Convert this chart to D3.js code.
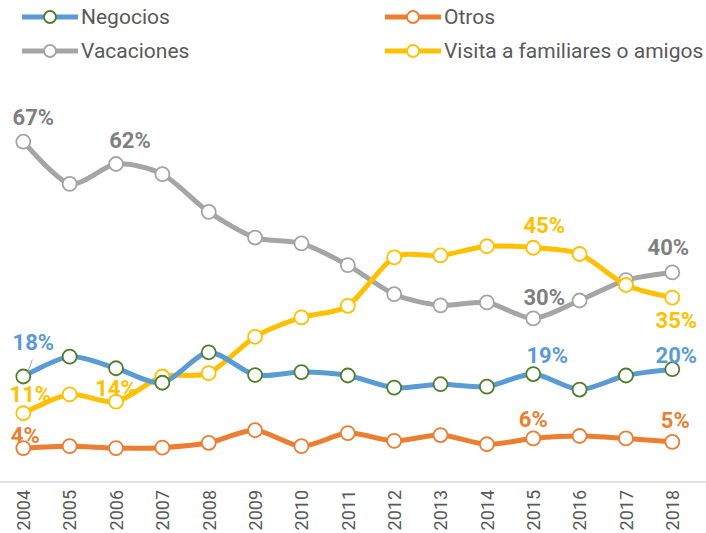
<!DOCTYPE html>
<html>
<head>
<meta charset="utf-8">
<script src="https://cdn.jsdelivr.net/npm/d3@7"></script>
<style>
  body { margin: 0; background: white; }
  text { font-family: Roboto, "Liberation Sans", sans-serif; }
</style>
</head>
<body>
<div id="chart"></div>
<script>
// data (% of trips)
const years = ["2004","2005","2006","2007","2008","2009","2010","2011","2012","2013","2014","2015","2016","2017","2018"];
const negocios = [18.5, 22.6, 20.2, 17.2, 23.5, 18.8, 19.4, 18.7, 16.2, 16.9, 16.4, 19.0, 15.8, 18.7, 20.0];
const otros = [3.7, 4.1, 3.7, 3.8, 4.8, 7.4, 4.1, 6.8, 5.2, 6.4, 4.5, 5.7, 6.2, 5.7, 5.0];
const vacaciones = [67.0, 58.3, 62.4, 60.3, 52.5, 47.2, 46.0, 41.5, 35.5, 33.2, 33.8, 30.5, 34.2, 38.4, 40.0];
const visitas = [10.9, 14.8, 13.3, 18.5, 19.2, 26.7, 30.7, 33.1, 43.1, 43.5, 45.4, 45.1, 43.8, 37.4, 34.8];

const seriesNames = ["Negocios", "Otros", "Vacaciones", "Visita a familiares o amigos"];
const seriesValues = [negocios, otros, vacaciones, visitas];

// which points carry a value label
const labelPoints = [
  { s: 2, i: 0, text: "67%" }, { s: 2, i: 2, text: "62%" },
  { s: 0, i: 0, text: "18%" }, { s: 3, i: 0, text: "11%" },
  { s: 3, i: 2, text: "14%" }, { s: 1, i: 0, text: "4%" },
  { s: 3, i: 11, text: "45%" }, { s: 2, i: 14, text: "40%" },
  { s: 2, i: 11, text: "30%" }, { s: 3, i: 14, text: "35%" },
  { s: 0, i: 11, text: "19%" }, { s: 0, i: 14, text: "20%" },
  { s: 1, i: 11, text: "6%" }, { s: 1, i: 14, text: "5%" }
];

const width = 706, height = 533;
const lineColors = ["#5b9bd5", "#ed7d31", "#a5a5a5", "#ffc000"];
const markerStroke = ["#4f7f2c", "#ed7d31", "#a5a5a5", "#ffc000"];
const labelColors = ["#5b9bd5", "#ed7d31", "#7f7f7f", "#ffc000"];
// label centre offsets from the point (pixels)
const labelOffset = [
  [10, -25], [14, -24], [10, -34], [7, -19], [0, -14], [2, -13],
  [11, -23], [-4, -25], [11, -21], [4, 22], [14, -19], [4, -14],
  [0, -19], [3, -22]
];

const svg = d3.select("#chart").append("svg")
  .attr("width", width).attr("height", height)
  .style("background", "white");

const x = d3.scalePoint().domain(years).range([23.3, 672.3]);
const y = d3.scaleLinear().domain([-3.3, 70]).range([482, 127.2]);

// bottom axis
const xAxis = svg.append("g")
  .attr("transform", `translate(0,${y(-3.3)})`)
  .call(d3.axisBottom(x).tickSize(0).tickPadding(0));
xAxis.select(".domain").remove();
xAxis.append("line")
  .attr("x1", 0).attr("x2", width)
  .attr("stroke", "#d9d9d9").attr("stroke-width", 1.5);
xAxis.selectAll(".tick text")
  .attr("transform", "rotate(-90)")
  .attr("text-anchor", "end")
  .attr("x", -8).attr("y", 0).attr("dy", "0.35em")
  .style("font-size", "18px")
  .attr("fill", "#595959");

const line = d3.line()
  .x((d, i) => x(years[i]))
  .y(d => y(d))
  .curve(d3.curveCardinal.tension(0.2));

// draw order: grey, yellow, blue, orange (as in the picture)
const order = [2, 3, 0, 1];
order.forEach(s => {
  svg.append("path")
    .datum(seriesValues[s])
    .attr("d", line)
    .attr("fill", "none")
    .attr("stroke", lineColors[s])
    .attr("stroke-width", 5)
    .attr("stroke-linejoin", "round");
  svg.append("g").selectAll("circle")
    .data(seriesValues[s])
    .join("circle")
    .attr("cx", (d, i) => x(years[i]))
    .attr("cy", d => y(d))
    .attr("r", 7)
    .attr("fill", "white")
    .attr("stroke", markerStroke[s])
    .attr("stroke-width", 1.8);
});

// leader line for 18%
svg.append("line")
  .attr("x1", x(years[0]) + 9).attr("y1", y(negocios[0]) - 17)
  .attr("x2", x(years[0]) + 4).attr("y2", y(negocios[0]) - 3)
  .attr("stroke", "#a5a5a5").attr("stroke-width", 1);

// value labels
svg.append("g").selectAll("text")
  .data(labelPoints)
  .join("text")
  .attr("x", (d, k) => x(years[d.i]) + labelOffset[k][0])
  .attr("y", (d, k) => y(seriesValues[d.s][d.i]) + labelOffset[k][1] + 8)
  .attr("text-anchor", "middle")
  .style("font-size", "22px")
  .style("font-weight", "bold")
  .attr("fill", d => labelColors[d.s])
  .text(d => d.text);

// legend
const legendPos = [[22, 17], [385, 17], [22, 51], [385, 51]];
seriesNames.forEach((name, s) => {
  const g = svg.append("g").attr("transform", `translate(${legendPos[s][0]},${legendPos[s][1]})`);
  g.append("line").attr("x1", 0).attr("x2", 56)
    .attr("stroke", lineColors[s]).attr("stroke-width", 5);
  g.append("circle").attr("cx", 28).attr("r", 6)
    .attr("fill", "white").attr("stroke", markerStroke[s]).attr("stroke-width", 1.8);
  g.append("text").attr("x", 59).attr("y", 0).attr("dy", "0.35em")
    .style("font-size", "21px").attr("fill", "#595959")
    .text(name);
});
</script>
</body>
</html>
